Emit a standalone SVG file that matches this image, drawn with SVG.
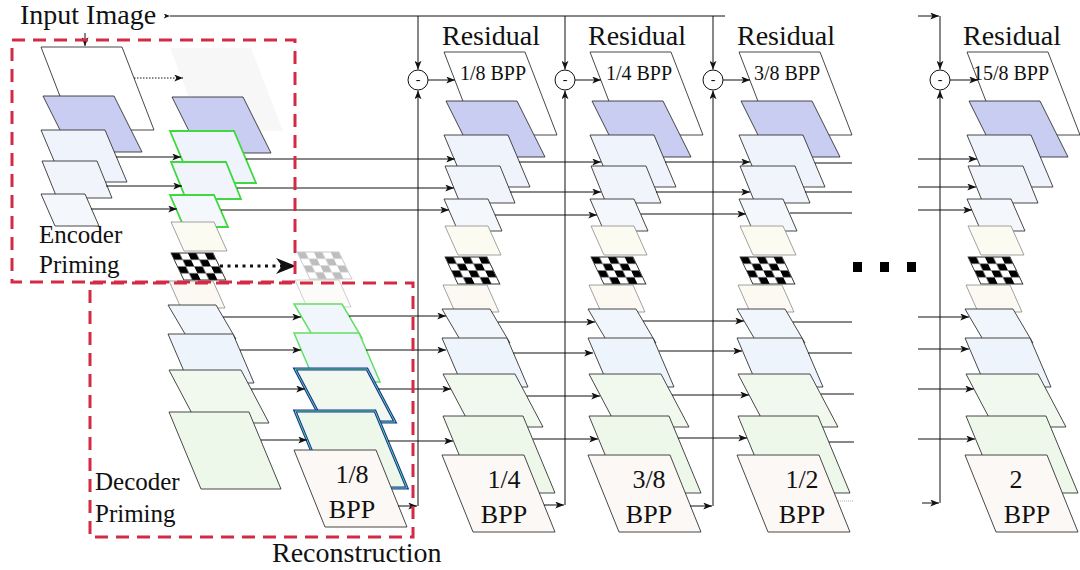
<svg xmlns="http://www.w3.org/2000/svg" width="1080" height="570" viewBox="0 0 1080 570">
<style>
.t{font-family:"Liberation Serif","Times New Roman",serif;fill:#111}
.big{font-size:28px}
.lab{font-size:25px}
.out{font-size:26px;text-anchor:middle}
.res{font-size:28px;text-anchor:middle}
.bpp{font-size:20px;text-anchor:middle}
.minus{font-size:14px;text-anchor:middle}
.sh{stroke:#333;stroke-width:0.9}
.lt{stroke:#8a8a8a;stroke-width:0.8}
.w{fill:#fff}
.bl{fill:#c8cdf1}
.b1{fill:#eff3fb}
.b2{fill:#f1f5fb}
.b3{fill:#f4f7fb}
.cr{fill:#fcfbf1}
.c8{fill:#fbf9f1}
.b9{fill:#f0f6fc}
.b10{fill:#eef4fb}
.g11{fill:#f1f9ee}
.g12{fill:#eef8ea}
.o13{fill:#fcf8f6}
.chkf{fill:url(#chk)}
.gh{fill:#f7f7f8;stroke:none}
.gr{stroke:#3fd83f;stroke-width:1.8}
.gr2{stroke:#62e062;stroke-width:1.5}
.bb{stroke:#1a2db5;stroke-width:3}
.gi{fill:none;stroke:#5be05b;stroke-width:1}
.ln{fill:none;stroke:#111;stroke-width:1}
.ar{marker-end:url(#ah)}
.dot{stroke-dasharray:1.5 1.5}
.box{fill:none;stroke:#d42a45;stroke-width:3;stroke-dasharray:13 8}
.sub{fill:#fff;stroke:#111;stroke-width:1}
</style>
<defs>
<marker id="ah" viewBox="0 0 10 8" refX="10" refY="4" markerWidth="9" markerHeight="7" markerUnits="userSpaceOnUse" orient="auto"><path d="M0,0 L10,4 L0,8 L2.5,4 Z" fill="#111"/></marker>
<marker id="as" viewBox="0 0 10 8" refX="10" refY="4" markerWidth="7" markerHeight="5" markerUnits="userSpaceOnUse" orient="auto"><path d="M0,0 L10,4 L0,8 L2.5,4 Z" fill="#111"/></marker>
<marker id="ahb" viewBox="0 0 10 8" refX="10" refY="4" markerWidth="26" markerHeight="16" markerUnits="userSpaceOnUse" orient="auto"><path d="M0,0 L10,4 L0,8 L3,4 Z" fill="#111"/></marker>
<pattern id="chk" patternUnits="userSpaceOnUse" width="16.8" height="13.5"><rect width="16.8" height="13.5" fill="#fff"/><rect width="8.4" height="6.75" fill="#000"/><rect x="8.4" y="6.75" width="8.4" height="6.75" fill="#000"/></pattern>
<path id="s1" d="M0,52 L81,52 L113,135 L32,135 Z"/>
<path id="s2" d="M2,101 L73,101 L101,157 L30,157 Z"/>
<path id="s3" d="M0,135 L64,135 L86,187 L22,187 Z"/>
<path id="s4" d="M1,166 L56,166 L71,203 L16,203 Z"/>
<path id="s5" d="M0,199 L44,199 L58,231 L14,231 Z"/>
<path id="s6" d="M1,226 L44,226 L57,255 L14,255 Z"/>
<rect id="s7" x="0" y="0" width="42" height="27" transform="translate(1,257) skewX(25.5)"/>
<path id="s8" d="M-1,285 L43,285 L55,312 L11,312 Z"/>
<path id="s9" d="M-2,309 L46,309 L66,343 L18,343 Z"/>
<path id="s10" d="M-2,338 L63,338 L84,387 L19,387 Z"/>
<path id="s11" d="M-1,374 L71,374 L99,427 L27,427 Z"/>
<path id="s12" d="M-1,416 L79,416 L111,493 L31,493 Z"/>
<path id="s13" d="M-2,455 L80,455 L111,532 L29,532 Z"/>
</defs>
<rect width="1080" height="570" fill="#fff"/>

<g id="encoder-input-stack" transform="translate(41,-5)">
<use href="#s1" class="sh w"/>
<use href="#s2" class="sh bl"/>
<use href="#s3" class="sh b1"/>
<use href="#s4" class="sh b2"/>
<use href="#s5" class="sh b3"/>
</g>

<g id="priming-stack" transform="translate(170,-4)">
<use href="#s1" class="gh"/>
<use href="#s2" class="sh bl"/>
<use href="#s3" class="gr b1"/>
<use href="#s4" class="gr b2"/>
<use href="#s5" class="gr b3"/>
<use href="#s6" class="lt cr"/>
<use href="#s7" class="sh chkf"/>
<use href="#s8" class="lt c8"/>
<use href="#s9" class="sh b9"/>
<use href="#s10" class="sh b10"/>
<use href="#s11" class="sh g11"/>
<use href="#s12" class="sh g12"/>
</g>

<g id="decoder-output-stack" transform="translate(296,-5)">
<use href="#s7" class="sh chkf" opacity="0.25"/>
<use href="#s8" class="lt c8" opacity="0.5"/>
<use href="#s9" class="gr2 b9"/>
<use href="#s10" class="gr2 b10"/>
<use href="#s11" class="bb g11"/>
<use href="#s11" class="gi"/>
<use href="#s12" class="bb g12"/>
<use href="#s12" class="gi"/>
<use href="#s13" class="sh o13"/>
<text class="t out" x="56" y="488">1/8</text>
<text class="t out" x="56" y="523">BPP</text>
</g>

<g id="stage1" transform="translate(444,0)">
<use href="#s1" class="sh w"/>
<use href="#s2" class="sh bl"/>
<use href="#s3" class="sh b1"/>
<use href="#s4" class="sh b2"/>
<use href="#s5" class="sh b3"/>
<use href="#s6" class="lt cr"/>
<use href="#s7" class="sh chkf"/>
<use href="#s8" class="lt c8"/>
<use href="#s9" class="sh b9"/>
<use href="#s10" class="sh b10"/>
<use href="#s11" class="sh g11"/>
<use href="#s12" class="sh g12"/>
<use href="#s13" class="sh o13"/>
<text class="t res" x="47" y="45">Residual</text>
<text class="t bpp" x="49" y="80">1/8 BPP</text>
<text class="t out" x="60" y="488">1/4</text>
<text class="t out" x="60" y="523">BPP</text>
</g>

<g id="stage2" transform="translate(590,0)">
<use href="#s1" class="sh w"/>
<use href="#s2" class="sh bl"/>
<use href="#s3" class="sh b1"/>
<use href="#s4" class="sh b2"/>
<use href="#s5" class="sh b3"/>
<use href="#s6" class="lt cr"/>
<use href="#s7" class="sh chkf"/>
<use href="#s8" class="lt c8"/>
<use href="#s9" class="sh b9"/>
<use href="#s10" class="sh b10"/>
<use href="#s11" class="sh g11"/>
<use href="#s12" class="sh g12"/>
<use href="#s13" class="sh o13"/>
<text class="t res" x="47" y="45">Residual</text>
<text class="t bpp" x="49" y="80">1/4 BPP</text>
<text class="t out" x="59" y="488">3/8</text>
<text class="t out" x="59" y="523">BPP</text>
</g>

<g id="stage3" transform="translate(739,0)">
<use href="#s1" class="sh w"/>
<use href="#s2" class="sh bl"/>
<use href="#s3" class="sh b1"/>
<use href="#s4" class="sh b2"/>
<use href="#s5" class="sh b3"/>
<use href="#s6" class="lt cr"/>
<use href="#s7" class="sh chkf"/>
<use href="#s8" class="lt c8"/>
<use href="#s9" class="sh b9"/>
<use href="#s10" class="sh b10"/>
<use href="#s11" class="sh g11"/>
<use href="#s12" class="sh g12"/>
<use href="#s13" class="sh o13"/>
<text class="t res" x="47" y="45">Residual</text>
<text class="t bpp" x="48" y="80">3/8 BPP</text>
<text class="t out" x="63" y="488">1/2</text>
<text class="t out" x="63" y="523">BPP</text>
</g>

<g id="stage16" transform="translate(967,0)">
<use href="#s1" class="sh w"/>
<use href="#s2" class="sh bl"/>
<use href="#s3" class="sh b1"/>
<use href="#s4" class="sh b2"/>
<use href="#s5" class="sh b3"/>
<use href="#s6" class="lt cr"/>
<use href="#s7" class="sh chkf"/>
<use href="#s8" class="lt c8"/>
<use href="#s9" class="sh b9"/>
<use href="#s10" class="sh b10"/>
<use href="#s11" class="sh g11"/>
<use href="#s12" class="sh g12"/>
<use href="#s13" class="sh o13"/>
<text class="t res" x="45" y="45">Residual</text>
<text class="t bpp" x="44" y="80">15/8 BPP</text>
<text class="t out" x="49" y="488">2</text>
<text class="t out" x="60" y="523">BPP</text>
</g>

<g id="connectors">
<path class="ln" d="M170,16 H725" marker-start="url(#as)"/>
<path class="ln ar" d="M918,16 H939"/>
<path class="ln ar" d="M418,16 V69.5"/>
<path class="ln ar" d="M565,16 V69.5"/>
<path class="ln ar" d="M713,16 V69.5"/>
<path class="ln ar" d="M940,16 V69.5"/>
<path class="ln ar" d="M428,80 H455"/>
<path class="ln ar" d="M575,80 H601"/>
<path class="ln ar" d="M723,80 H750"/>
<path class="ln ar" d="M950,80 H978"/>
<path class="ln ar" d="M418,506 V90.5"/>
<path class="ln ar" d="M565,505 V90.5"/>
<path class="ln ar" d="M713,506 V90.5"/>
<path class="ln ar" d="M940,503 V90.5"/>
<path class="ln ar" d="M398,506 H417"/>
<path class="ln ar" d="M544,505 H564"/>
<path class="ln ar" d="M690,506 H712"/>
<path class="ln ar" d="M922,503 H939"/>
<path d="M838,501 H853" fill="none" stroke="#999" stroke-width="0.8" stroke-dasharray="1 1"/>
<path class="ln ar" d="M85,33 V46"/>
<path class="ln ar dot" d="M134,78 H183"/>
<path d="M220,266 H296" fill="none" stroke="#111" stroke-width="3" stroke-dasharray="3 4.5" marker-end="url(#ahb)"/>
<path class="ln ar" d="M116,157 H181"/>
<path class="ln ar" d="M106,186 H182"/>
<path class="ln ar" d="M91,209 H177"/>
<path class="ln ar" d="M246,159 H455"/>
<path class="ln ar" d="M237,188 H454"/>
<path class="ln ar" d="M221,210 H449"/>
<path class="ln ar" d="M519,162 H601"/>
<path class="ln ar" d="M510,192 H601"/>
<path class="ln ar" d="M495,215 H597"/>
<path class="ln ar" d="M665,162 H750"/>
<path class="ln ar" d="M656,192 H750"/>
<path class="ln ar" d="M641,214 H746"/>
<path class="ln" d="M815,163 H852"/>
<path class="ln" d="M805,192 H852"/>
<path class="ln" d="M790,213 H852"/>
<path class="ln ar" d="M918,159 H977"/>
<path class="ln ar" d="M918,187 H976"/>
<path class="ln ar" d="M918,210 H972"/>
<path class="ln ar" d="M223,317 H301"/>
<path class="ln ar" d="M240,350 H301"/>
<path class="ln ar" d="M251,389 H305"/>
<path class="ln ar" d="M261,440 H307"/>
<path class="ln ar" d="M349,316 H446"/>
<path class="ln ar" d="M366,350 H446"/>
<path class="ln ar" d="M378,389 H451"/>
<path class="ln ar" d="M388,441 H453"/>
<path class="ln ar" d="M498,322 H595"/>
<path class="ln ar" d="M513,353 H593"/>
<path class="ln ar" d="M527,396 H600"/>
<path class="ln ar" d="M533,439 H598"/>
<path class="ln ar" d="M643,321 H744"/>
<path class="ln ar" d="M659,351 H742"/>
<path class="ln ar" d="M672,395 H749"/>
<path class="ln ar" d="M678,438 H747"/>
<path class="ln" d="M793,322 H852"/>
<path class="ln" d="M808,353 H852"/>
<path class="ln" d="M821,394 H854"/>
<path class="ln" d="M829,442 H854"/>
<path class="ln ar" d="M918,317 H969"/>
<path class="ln ar" d="M918,349 H969"/>
<path class="ln ar" d="M918,389 H974"/>
<path class="ln ar" d="M918,439 H975"/>
</g>

<g id="sub1"><circle class="sub" cx="418" cy="80" r="10"/><text class="t minus" x="418" y="84">-</text></g>
<g id="sub2"><circle class="sub" cx="565" cy="80" r="10"/><text class="t minus" x="565" y="84">-</text></g>
<g id="sub3"><circle class="sub" cx="713" cy="80" r="10"/><text class="t minus" x="713" y="84">-</text></g>
<g id="sub16"><circle class="sub" cx="940" cy="80" r="10"/><text class="t minus" x="940" y="84">-</text></g>

<g id="ellipsis" fill="#000">
<rect x="853" y="262" width="9" height="10"/>
<rect x="880" y="262" width="9" height="10"/>
<rect x="907" y="262" width="9" height="10"/>
</g>

<g id="encoder-priming">
<rect class="box" x="12" y="40" width="283" height="242"/>
<text class="t lab" x="39" y="243">Encoder</text>
<text class="t lab" x="39" y="273">Priming</text>
</g>
<g id="decoder-priming">
<rect class="box" x="90" y="283" width="323" height="254"/>
<text class="t lab" x="95" y="490">Decoder</text>
<text class="t lab" x="95" y="522">Priming</text>
</g>

<text id="input-label" class="t big" x="20" y="24">Input Image</text>
<text id="recon-label" class="t big" x="272" y="562">Reconstruction</text>
</svg>
